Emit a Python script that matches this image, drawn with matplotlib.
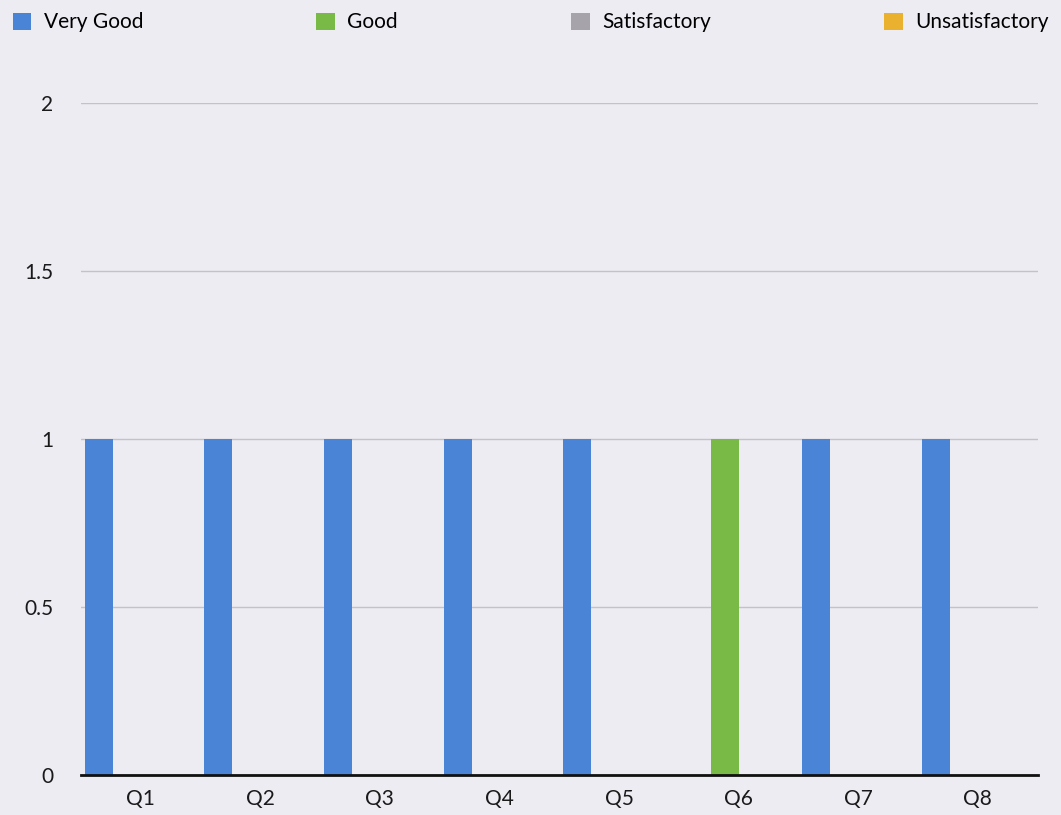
import numpy as np
import matplotlib.pyplot as plt

plt.rcParams['font.family'] = ['Lato', 'DejaVu Sans']

questions = ["Q1", "Q2", "Q3", "Q4", "Q5", "Q6", "Q7", "Q8"]
series = ["Very Good", "Good", "Satisfactory", "Unsatisfactory"]
very_good = [1, 1, 1, 1, 1, 0, 1, 1]
good = [0, 0, 0, 0, 0, 1, 0, 0]
satisfactory = [0, 0, 0, 0, 0, 0, 0, 0]
unsatisfactory = [0, 0, 0, 0, 0, 0, 0, 0]
colors = ["#4A84D6", "#79B945", "#A7A3AA", "#E9B12E"]

bg = "#EDECF3"
fig = plt.figure(figsize=(10.61, 8.15), dpi=100, facecolor=bg)
ax = fig.add_axes([0.0763, 0.049, 0.9017, 0.8246], facecolor=bg)

x = np.arange(len(questions))
w = 0.234
data = [very_good, good, satisfactory, unsatisfactory]
for i, (name, vals) in enumerate(zip(series, data)):
    ax.bar(x + (i - 1.5) * w, vals, w, color=colors[i], label=name, zorder=3)

ax.set_xlim(-0.5, 7.5)
ax.set_ylim(0, 2)
ax.set_yticks([0, 0.5, 1, 1.5, 2])
ax.set_yticklabels(["0", "0.5", "1", "1.5", "2"])
ax.set_xticks(x)
ax.set_xticklabels(questions)
ax.tick_params(length=0, labelsize=15, colors="#1a1a1a")
ax.tick_params(axis="y", pad=20)
ax.tick_params(axis="x", pad=10)
ax.grid(axis="y", color="#C4C2C8", lw=1, zorder=0)
for s in ["top", "right", "left"]:
    ax.spines[s].set_visible(False)
ax.spines["bottom"].set_linewidth(2)
ax.spines["bottom"].set_color("#111111")
ax.spines["bottom"].set_zorder(4)

leg = fig.legend(loc="upper left", bbox_to_anchor=(0.0, 1.0, 1.0, 0.0), mode="expand",
                 ncol=4, frameon=False, fontsize=15, handlelength=0.9, handleheight=0.9,
                 handletextpad=0.6, borderaxespad=0.2)

fig.savefig("out.png", dpi=100, facecolor=bg)
